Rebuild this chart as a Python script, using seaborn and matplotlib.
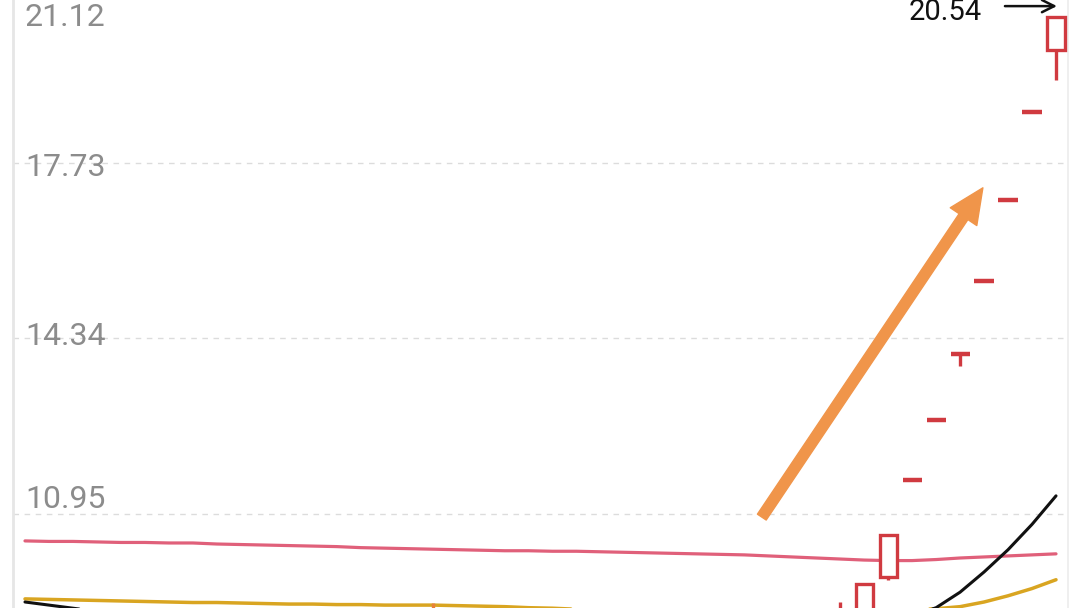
import matplotlib
matplotlib.use("Agg")
import matplotlib.pyplot as plt
import seaborn as sns
import pandas as pd

# y-axis grid levels shown on the chart
grid_levels = [10.95, 14.34, 17.73, 21.12]
grid_labels = ["10.95", "14.34", "17.73", "21.12"]

# candles visible in the window (the rest sit below the bottom edge)
cdl_idx = [17, 34, 35, 36, 37, 38, 39, 40, 41, 42, 43]
cdl_open = [8.95, 8.80, 8.95, 9.73, 11.61, 12.77, 14.04, 15.45, 17.02, 18.71, 19.91]
cdl_high = [9.24, 9.25, 9.60, 10.54, 11.61, 12.77, 14.04, 15.45, 17.02, 18.71, 20.54]
cdl_low = [8.85, 8.70, 8.90, 9.67, 11.61, 12.77, 13.80, 15.45, 17.02, 18.71, 19.33]
cdl_close = [8.98, 8.95, 9.60, 10.54, 11.61, 12.77, 14.04, 15.45, 17.02, 18.71, 20.54]

# moving averages, one value per bar (0..43)
ma_pink = [10.43, 10.42, 10.42, 10.41, 10.40, 10.40, 10.39, 10.39, 10.37, 10.36,
           10.35, 10.34, 10.33, 10.32, 10.30, 10.29, 10.28, 10.27, 10.26, 10.25,
           10.24, 10.24, 10.23, 10.23, 10.22, 10.21, 10.20, 10.19, 10.18, 10.17,
           10.16, 10.14, 10.12, 10.10, 10.08, 10.06, 10.05, 10.05, 10.07, 10.10,
           10.12, 10.14, 10.16, 10.18]
ma_gold = [9.31, 9.30, 9.29, 9.28, 9.27, 9.26, 9.25, 9.24, 9.24, 9.23,
           9.22, 9.21, 9.21, 9.20, 9.20, 9.19, 9.19, 9.19, 9.18, 9.17,
           9.16, 9.14, 9.13, 9.11, 9.10, 9.09, 9.08, 9.07, 9.06, 9.05,
           9.05, 9.04, 9.04, 9.04, 9.05, 9.06, 9.08, 9.10, 9.12, 9.16,
           9.25, 9.37, 9.51, 9.68]
ma_black = [9.25, 9.19, 9.13, 9.07, 9.02, 8.98, 8.95, 8.92, 8.90, 8.88,
            8.86, 8.85, 8.84, 8.83, 8.82, 8.81, 8.80, 8.80, 8.79, 8.79,
            8.78, 8.78, 8.77, 8.77, 8.76, 8.76, 8.75, 8.75, 8.74, 8.74,
            8.74, 8.73, 8.73, 8.74, 8.76, 8.80, 8.87, 8.98, 9.14, 9.44,
            9.83, 10.26, 10.75, 11.30]

high_label = "20.54"

RED = "#d03a40"
ORANGE_TICK = "#e8813a"

sns.set_theme(style="white")
plt.rcParams["font.family"] = ["Roboto", "DejaVu Sans"]

fig = plt.figure(figsize=(10.8, 6.08), dpi=100)
ax = fig.add_axes([13 / 1080, 0, 1055 / 1080, 1])
ax.set_xlim(-0.5, 43.5)
ax.set_ylim(9.134, 20.878)

# dashed grid
for v in grid_levels:
    ax.axhline(v, color="#dcdcdc", lw=1, ls=(0, (4, 4)), zorder=0)

# moving averages
df = pd.DataFrame({"i": range(len(ma_pink)), "pink": ma_pink,
                   "gold": ma_gold, "black": ma_black})
sns.lineplot(data=df, x="i", y="pink", color="#e0607a", lw=2.3, ax=ax, zorder=2)
sns.lineplot(data=df, x="i", y="gold", color="#d9a521", lw=2.5, ax=ax, zorder=2)
sns.lineplot(data=df, x="i", y="black", color="#111111", lw=2.2, ax=ax, zorder=2)

# candles
for i, o, h, l, c in zip(cdl_idx, cdl_open, cdl_high, cdl_low, cdl_close):
    col = ORANGE_TICK if i == 17 else (RED if c >= o else "#2a9d5c")
    ax.vlines(i, l, h, color=col, lw=2.4, zorder=3)
    if abs(c - o) < 0.01:
        ax.hlines(c, i - 0.4, i + 0.4, color=col, lw=3.2, zorder=4)
    else:
        ax.bar(i, c - o, bottom=o, width=0.72, facecolor="white",
               edgecolor=col, lw=2.4, zorder=4)

# y labels drawn inside the plot
label_offsets = [14, 2, -5, -30]
for v, t, dy in zip(grid_levels, grid_labels, label_offsets):
    ax.annotate(t, xy=(0, v), xycoords=("axes fraction", "data"),
                xytext=(12, dy), textcoords="offset pixels",
                ha="left", va="center", fontsize=23, color="#8c8c8c",
                annotation_clip=False)

# big orange trend arrow
ax.annotate("", xy=(39.95, 17.25), xytext=(30.73, 10.89),
            arrowprops=dict(arrowstyle="simple,head_length=1.25,head_width=1.15,tail_width=0.38",
                            mutation_scale=20, color="#f0954a", shrinkA=0, shrinkB=0),
            zorder=5)

# high price marker
fig.text(982 / 1080, 1 - 12 / 608, high_label, ha="right", va="center",
         fontsize=21, color="#111111")
ax.annotate("", xy=(43.04, 20.76), xytext=(40.87, 20.76),
            arrowprops=dict(arrowstyle="->", lw=1.8, color="#111111",
                            mutation_scale=22, shrinkA=0, shrinkB=0))

ax.set_xticks([])
ax.set_yticks([])
ax.set_xlabel("")
ax.set_ylabel("")
for s in ["top", "bottom"]:
    ax.spines[s].set_visible(False)
ax.spines["left"].set_color("#e6e6e6")
ax.spines["left"].set_linewidth(2)
ax.spines["right"].set_color("#ececec")
ax.spines["right"].set_linewidth(1.2)

fig.savefig("out.png", dpi=100)
